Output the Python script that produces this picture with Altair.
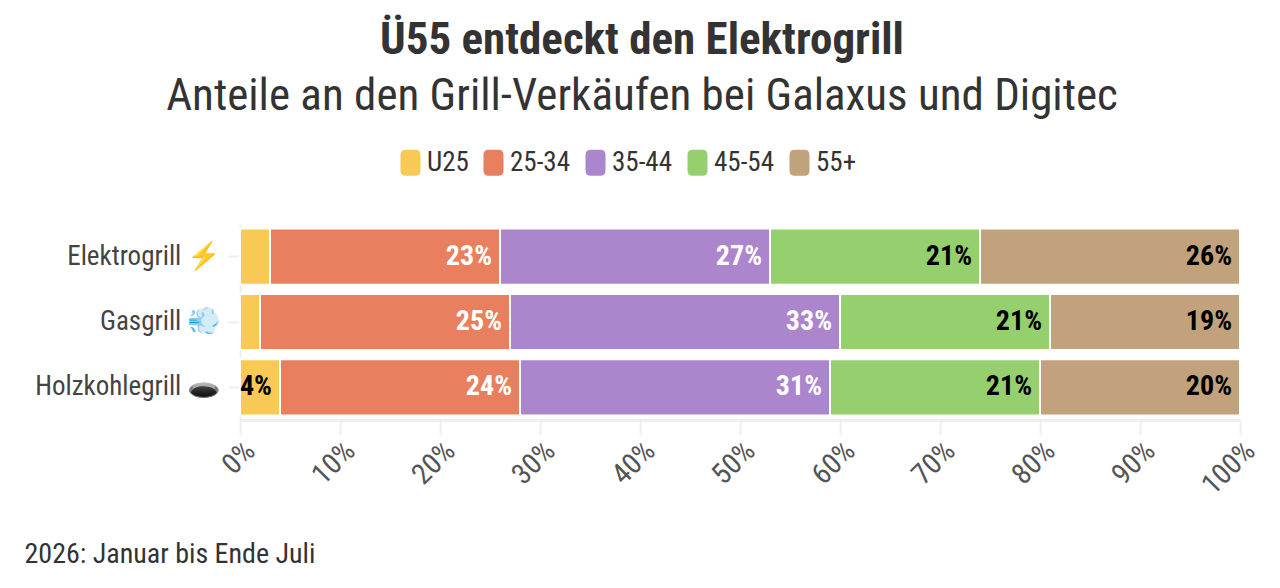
import altair as alt
import pandas as pd

grills = ["Elektrogrill ⚡", "Gasgrill 💨", "Holzkohlegrill 🕳️"]
ages = ["U25", "25-34", "35-44", "45-54", "55+"]
elektro = [3, 23, 27, 21, 26]
gas = [2, 25, 33, 21, 19]
holz = [4, 24, 31, 21, 20]
colors = ["#F8C955", "#E88060", "#AC86CC", "#96CF6E", "#C1A27C"]
ticks = [0, 10, 20, 30, 40, 50, 60, 70, 80, 90, 100]

rows = []
for g, vals in zip(grills, [elektro, gas, holz]):
    for i, (a, v) in enumerate(zip(ages, vals)):
        rows.append({"grill": g, "age": a, "ord": i, "value": v})
df = pd.DataFrame(rows)

FONT = "Roboto Condensed, Liberation Sans Narrow, Roboto, sans-serif"

rsq = "M-0.77,-0.6 Q-0.77,-1 -0.37,-1 L0.37,-1 Q0.77,-1 0.77,-0.6 L0.77,0.6 Q0.77,1 0.37,1 L-0.37,1 Q-0.77,1 -0.77,0.6 Z"

base = alt.Chart(df).transform_stack(
    stack="value", as_=["v0", "v1"], groupby=["grill"], sort=[alt.SortField("ord")]
)

y_enc = alt.Y(
    "grill:N",
    sort=grills,
    title=None,
    scale=alt.Scale(paddingInner=0.14),
    axis=alt.Axis(
        labelFontSize=27, labelColor="#444", labelFont=FONT, domainColor="#eeeeee",
        domainWidth=2, tickColor="#eeeeee", tickWidth=2, tickSize=12, labelPadding=7,
        labelLimit=400,
    ),
)

bars = base.mark_bar(stroke="white", strokeWidth=2).encode(
    x=alt.X(
        "v0:Q",
        scale=alt.Scale(domain=[0, 100], nice=False),
        axis=alt.Axis(
            values=ticks, labelExpr="datum.value + '%'", labelAngle=315, labelFontSize=29,
            labelColor="#555", labelFont=FONT, grid=False, domainColor="#eeeeee", domainWidth=3,
            tickColor="#eeeeee", tickWidth=2, tickSize=15, labelPadding=1,
            title="2026: Januar bis Ende Juli", titleX=-216, titleY=142, titleAlign="left",
            titleAnchor="start", titleBaseline="alphabetic", titleFontSize=28,
            titleFontWeight="normal", titleColor="#333", titleFont=FONT,
        ),
    ),
    x2="v1:Q",
    y=y_enc,
    color=alt.Color(
        "age:N",
        sort=ages,
        scale=alt.Scale(domain=ages, range=colors),
        legend=alt.Legend(
            title=None, orient="none", legendX=157, legendY=-75, direction="horizontal",
            symbolType=rsq, symbolSize=676,
            symbolStrokeWidth=0, symbolOpacity=1, labelFontSize=27, labelColor="#333",
            labelFont=FONT, columnPadding=11, labelOffset=3,
        ),
    ),
    order=alt.Order("ord:Q"),
)

labels = base.transform_filter("datum.value >= 4").transform_calculate(
    label="datum.value + '%'"
).mark_text(align="right", baseline="middle", dx=-8, fontSize=28, fontWeight="bold", font=FONT).encode(
    x="v1:Q",
    y=alt.Y("grill:N", sort=grills),
    text="label:N",
    color=alt.condition(
        "datum.age == '25-34' || datum.age == '35-44'", alt.value("white"), alt.value("black")
    ),
)

chart = (
    alt.layer(bars, labels)
    .properties(
        width=1000,
        height=196,
        autosize=alt.AutoSizeParams(type="none"),
        padding={"left": 232, "top": 216, "right": 32, "bottom": 160},
        title=alt.TitleParams(
            text="Ü55 entdeckt den Elektrogrill",
            subtitle="Anteile an den Grill-Verkäufen bei Galaxus und Digitec",
            fontSize=45, fontWeight="bold", color="#333", font=FONT,
            subtitleFontSize=45, subtitleColor="#333", subtitleFont=FONT,
            anchor="middle", dx=-98, offset=30, subtitlePadding=11,
        ),
    )
    .configure_view(stroke=None)
)

chart.save("out.html", embed_options={"renderer": "svg", "actions": False})
